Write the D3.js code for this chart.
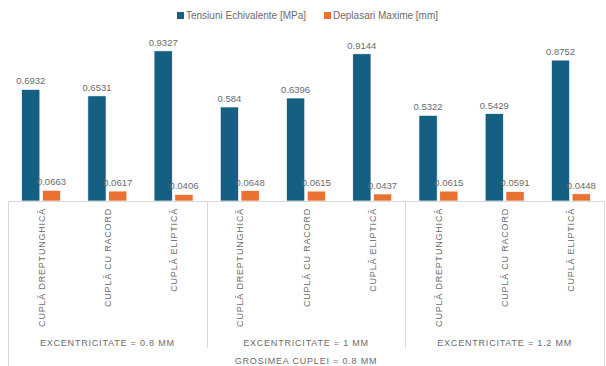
<!DOCTYPE html>
<html>
<head>
<meta charset="utf-8">
<script src="https://cdn.jsdelivr.net/npm/d3@7"></script>
<style>
  body { margin: 0; background: #fff; }
  text { font-family: "Liberation Sans", Arial, sans-serif; }
</style>
</head>
<body>
<div class="chart"></div>
<script>
// data
var groups = ["EXCENTRICITATE = 0.8 MM", "EXCENTRICITATE = 1 MM", "EXCENTRICITATE = 1.2 MM"];
var types = ["CUPLĂ DREPTUNGHICĂ", "CUPLĂ CU RACORD", "CUPLĂ ELIPTICĂ"];
var seriesNames = ["Tensiuni Echivalente [MPa]", "Deplasari Maxime [mm]"];
var tensiuni = [0.6932, 0.6531, 0.9327, 0.584, 0.6396, 0.9144, 0.5322, 0.5429, 0.8752];
var deplasari = [0.0663, 0.0617, 0.0406, 0.0648, 0.0615, 0.0437, 0.0615, 0.0591, 0.0448];
var outerTitle = "GROSIMEA CUPLEI = 0.8 MM";
var colors = ["#156082", "#E97132"];

var width = 606, height = 366;
var left = 8, right = 604, baseY = 201, topY = 40;

var svg = d3.select('.chart')
            .append('svg')
            .attr('width', width)
            .attr('height', height);

// one entry per category (group x type)
var cats = [];
groups.forEach(function(g, gi) {
  types.forEach(function(t, ti) {
    cats.push({ key: gi + "-" + ti, group: g, type: t, idx: gi * 3 + ti });
  });
});

var x = d3.scaleBand()
          .domain(cats.map(function(d) { return d.key; }))
          .range([left, right])
          .padding(0);

var xInner = d3.scaleBand()
               .domain([0, 1])
               .range([-19.5, 19.5])
               .paddingInner(0.12);

var y = d3.scaleLinear()
          .domain([0, 1])
          .range([baseY, topY]);

var gridColor = "#d9d9d9";
var textColor = "#6b6b6b";

// bars + value labels
var seriesVals = [tensiuni, deplasari];
seriesVals.forEach(function(vals, si) {
  var g = svg.append("g");
  g.selectAll("rect")
   .data(cats)
   .enter().append("rect")
   .attr("x", function(d) { return x(d.key) + x.bandwidth() / 2 + xInner(si); })
   .attr("y", function(d) { return y(vals[d.idx]); })
   .attr("width", xInner.bandwidth())
   .attr("height", function(d) { return baseY - y(vals[d.idx]); })
   .attr("fill", colors[si])
   .attr("stroke", "#fff")
   .attr("stroke-width", 0.7);

  g.selectAll("text")
   .data(cats)
   .enter().append("text")
   .attr("x", function(d) { return x(d.key) + x.bandwidth() / 2 + xInner(si) + xInner.bandwidth() / 2; })
   .attr("y", function(d) { return y(vals[d.idx]) - 5; })
   .attr("text-anchor", "middle")
   .attr("font-size", "9.5px")
   .attr("fill", textColor)
   .text(function(d) { return vals[d.idx]; });
});

// axis lines (baseline + group separators)
var groupW = (right - left) / groups.length;
svg.append("line")
   .attr("x1", left).attr("x2", right)
   .attr("y1", baseY + 0.5).attr("y2", baseY + 0.5)
   .attr("stroke", gridColor);

d3.range(groups.length + 1).forEach(function(i) {
  var xx = Math.round(left + i * groupW) + 0.5;
  var isEdge = (i === 0 || i === groups.length);
  svg.append("line")
     .attr("x1", xx).attr("x2", xx)
     .attr("y1", baseY).attr("y2", isEdge ? height : 348)
     .attr("stroke", gridColor);
});

// category labels (rotated)
svg.append("g").selectAll("text")
   .data(cats)
   .enter().append("text")
   .attr("transform", function(d) {
     return "translate(" + (x(d.key) + x.bandwidth() / 2 + 3.5) + ",208) rotate(-90)";
   })
   .attr("text-anchor", "end")
   .attr("font-size", "9px")
   .attr("letter-spacing", "0.8px")
   .attr("fill", textColor)
   .text(function(d) { return d.type; });

// group labels
svg.append("g").selectAll("text")
   .data(groups)
   .enter().append("text")
   .attr("x", function(d, i) { return left + (i + 0.5) * groupW; })
   .attr("y", 346)
   .attr("text-anchor", "middle")
   .attr("font-size", "9px")
   .attr("letter-spacing", "0.8px")
   .attr("fill", textColor)
   .text(function(d) { return d; });

svg.append("text")
   .attr("x", (left + right) / 2)
   .attr("y", 364)
   .attr("text-anchor", "middle")
   .attr("font-size", "9px")
   .attr("letter-spacing", "0.8px")
   .attr("fill", textColor)
   .text(outerTitle);

// legend
var legendX = [177, 324];
seriesNames.forEach(function(name, i) {
  svg.append("rect")
     .attr("x", legendX[i]).attr("y", 12)
     .attr("width", 7).attr("height", 7)
     .attr("fill", colors[i]);
  svg.append("text")
     .attr("x", legendX[i] + 9).attr("y", 19)
     .attr("font-size", "10px")
     .attr("fill", textColor)
     .text(name);
});
</script>
</body>
</html>
